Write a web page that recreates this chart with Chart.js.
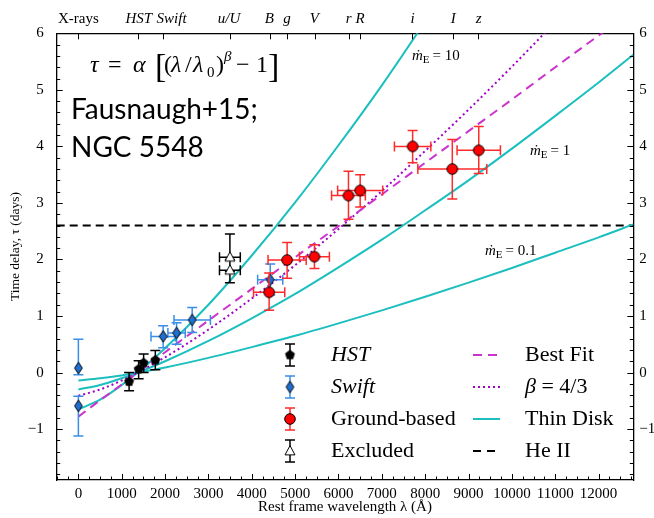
<!DOCTYPE html>
<html>
<head>
<meta charset="utf-8">
<script src="https://cdn.jsdelivr.net/npm/chart.js@4.4.1/dist/chart.umd.min.js"></script>
<style>
  html, body { margin: 0; padding: 0; background: #fff; }
  canvas { display: block; }
</style>
</head>
<body>
<canvas id="lagChart" width="654" height="518"></canvas>
<script>
const SERIF = "'Liberation Serif', 'DejaVu Serif', serif";

// top axis: bands and where they sit
const bandNames = ["X-rays", "HST", "Swift", "u/U", "B", "g", "V", "r", "R", "i", "I", "z"];
const bandWave = [0, 1380, 1955, 3495, 4415, 4815, 5455, 6235, 6490, 7705, 8640, 9225];
const bandLabelWave = [0, 1395, 2150, 3475, 4405, 4810, 5440, 6235, 6500, 7710, 8645, 9235];

const xTickLabels = [0, 1000, 2000, 3000, 4000, 5000, 6000, 7000, 8000, 9000, 10000, 11000, 12000];
const yTickLabels = [-1, 0, 1, 2, 3, 4, 5, 6];

// HST
const hstWave = [1170, 1390, 1505, 1775];
const hstLag = [-0.16, 0.06, 0.17, 0.22];
const hstErrUp = [0.16, 0.15, 0.16, 0.17];
const hstErrDn = [0.16, 0.17, 0.17, 0.17];
const hstWaveErr = [0, 0, 0, 0];

// Swift
const swiftWave = [0, 0, 1955, 2265, 2625, 4425];
const swiftLag = [0.08, -0.59, 0.64, 0.70, 0.93, 1.64];
const swiftErrUp = [0.51, 0.17, 0.19, 0.18, 0.22, 0.28];
const swiftErrDn = [0.12, 0.53, 0.20, 0.20, 0.22, 0.27];
const swiftWaveErr = [0, 0, 280, 200, 420, 290];

// ground-based
const groundWave = [4400, 4815, 5445, 6230, 6500, 7710, 8625, 9235];
const groundLag = [1.42, 1.99, 2.05, 3.13, 3.22, 4.00, 3.60, 3.93];
const groundErrUp = [0.34, 0.31, 0.21, 0.43, 0.28, 0.28, 0.52, 0.42];
const groundErrDn = [0.32, 0.32, 0.21, 0.42, 0.29, 0.29, 0.53, 0.41];
const groundWaveErr = [360, 440, 345, 390, 520, 420, 795, 500];

// excluded u/U
const exclWave = [3495, 3495];
const exclLag = [2.04, 1.81];
const exclErrUp = [0.41, 0.19];
const exclErrDn = [0.25, 0.22];
const exclWaveErr = [240, 240];

// model curves
const modelWave = [0, 500, 1000, 1367, 2000, 3000, 4000, 5000, 6000, 7000, 8000, 9000, 10000, 11000, 12000, 12800];
const bestFit = [-0.78, -0.49, -0.21, 0, 0.36, 0.92, 1.48, 2.04, 2.59, 3.15, 3.71, 4.27, 4.83, 5.40, 5.96, 6.40];
const beta43 = [-0.41, -0.30, -0.14, 0, 0.27, 0.76, 1.31, 1.90, 2.54, 3.21, 3.92, 4.65, 5.41, 6.20, 7.00, 7.68];
const disk10 = [-0.65, -0.48, -0.22, 0, 0.43, 1.20, 2.07, 3.01, 4.02, 5.08, 6.21, 7.37];
const disk1 = [-0.30, -0.22, -0.10, 0, 0.20, 0.56, 0.96, 1.39, 1.86, 2.35, 2.87, 3.40, 3.96, 4.54, 5.13, 5.62];
const disk01 = [-0.14, -0.10, -0.05, 0, 0.09, 0.26, 0.45, 0.65, 0.87, 1.10, 1.34, 1.59, 1.85, 2.12, 2.39, 2.62];
const heWave = [-500, 12800];
const heLag = [2.6, 2.6];

const legendLeft = ["HST", "Swift", "Ground-based", "Excluded"];
const legendRight = ["Best Fit", "\u03b2 = 4/3", "Thin Disk", "He II"];
const mdotValues = ["10", "1", "0.1"];

const CYAN = "#1bbfbf";
const MAGENTA = "#cc33cc";
const PURPLE = "#a000c8";

function pts(xs, ys) {
    return ys.map((y, i) => ({ x: xs[i], y: y }));
}

function marker(size, draw) {
    const c = document.createElement("canvas");
    c.width = c.height = size;
    const g = c.getContext("2d");
    g.translate(size / 2, size / 2);
    draw(g);
    return c;
}

const pentagon = marker(13, g => {
    g.beginPath();
    for (let k = 0; k < 5; k++) {
        const a = -Math.PI / 2 + k * 2 * Math.PI / 5;
        g.lineTo(5.2 * Math.cos(a), 5.2 * Math.sin(a));
    }
    g.closePath();
    g.fillStyle = "#000";
    g.fill();
});
const diamond = marker(15, g => {
    g.beginPath();
    g.moveTo(0, -5.8); g.lineTo(3.9, 0); g.lineTo(0, 5.8); g.lineTo(-3.9, 0);
    g.closePath();
    g.fillStyle = "#1f6fd0";
    g.fill();
    g.lineWidth = 1;
    g.strokeStyle = "#000";
    g.stroke();
});
const redDot = marker(14, g => {
    g.beginPath();
    g.arc(0, 0, 5.3, 0, 2 * Math.PI);
    g.fillStyle = "#ff0000";
    g.fill();
    g.lineWidth = 1;
    g.strokeStyle = "#000";
    g.stroke();
});
const triangle = marker(14, g => {
    g.beginPath();
    g.moveTo(0, -5.4); g.lineTo(5, 3.9); g.lineTo(-5, 3.9);
    g.closePath();
    g.fillStyle = "#fff";
    g.fill();
    g.lineWidth = 1;
    g.strokeStyle = "#000";
    g.stroke();
});

function pointSet(label, xs, ys, style, color, up, dn, werr) {
    return {
        label, data: pts(xs, ys), pointStyle: style, pointRadius: 5,
        showLine: false, errColor: color, errUp: up, errDn: dn, errW: werr
    };
}

function lineSet(label, xs, ys, color, dash, width) {
    return {
        label, data: pts(xs, ys), showLine: true, pointRadius: 0,
        borderColor: color, borderDash: dash, borderWidth: width,
        cubicInterpolationMode: "monotone", fill: false
    };
}

const errorBars = {
    id: "errorBars",
    beforeDatasetDraw(chart, args) {
        const ds = chart.data.datasets[args.index];
        if (!ds.errUp) return;
        const ctx = chart.ctx, xs = chart.scales.x, ys = chart.scales.y;
        ctx.save();
        ctx.strokeStyle = ds.errColor;
        ctx.lineWidth = 1.5;
        ctx.beginPath();
        ds.data.forEach((p, i) => {
            const px = xs.getPixelForValue(p.x), py = ys.getPixelForValue(p.y);
            const top = ys.getPixelForValue(p.y + ds.errUp[i]);
            const bot = ys.getPixelForValue(p.y - ds.errDn[i]);
            ctx.moveTo(px, top); ctx.lineTo(px, bot);
            ctx.moveTo(px - 5, top); ctx.lineTo(px + 5, top);
            ctx.moveTo(px - 5, bot); ctx.lineTo(px + 5, bot);
            if (ds.errW[i]) {
                const l = xs.getPixelForValue(p.x - ds.errW[i]);
                const r = xs.getPixelForValue(p.x + ds.errW[i]);
                ctx.moveTo(l, py); ctx.lineTo(r, py);
                ctx.moveTo(l, py - 5); ctx.lineTo(l, py + 5);
                ctx.moveTo(r, py - 5); ctx.lineTo(r, py + 5);
            }
        });
        ctx.stroke();
        ctx.restore();
    }
};

// inward tick marks, matplotlib style
const inTicks = {
    id: "inTicks",
    afterDraw(chart) {
        const { ctx, chartArea: a, scales } = chart;
        const xs = scales.x, ys = scales.y;
        ctx.save();
        ctx.strokeStyle = "#000";
        ctx.lineWidth = 1;
        ctx.beginPath();
        for (let v = -500; v <= 12800; v += 250) {
            const px = Math.round(xs.getPixelForValue(v)) + 0.5;
            const len = v % 1000 === 0 ? 6 : 3.5;
            ctx.moveTo(px, a.bottom); ctx.lineTo(px, a.bottom - len);
        }
        for (let k = -9; k <= 30; k++) {
            const py = Math.round(ys.getPixelForValue(k / 5)) + 0.5;
            const len = k % 5 === 0 ? 6 : 3.5;
            ctx.moveTo(a.left, py); ctx.lineTo(a.left + len, py);
            ctx.moveTo(a.right, py); ctx.lineTo(a.right - len, py);
        }
        bandWave.forEach(v => {
            const px = Math.round(xs.getPixelForValue(v)) + 0.5;
            ctx.moveTo(px, a.top); ctx.lineTo(px, a.top + 6);
        });
        ctx.stroke();
        ctx.restore();
    }
};

function drawMdot(ctx, x, y, val) {
    ctx.font = "italic 15px " + SERIF;
    ctx.fillText("\u1e41", x, y);
    x += ctx.measureText("\u1e41").width;
    ctx.font = "11px " + SERIF;
    ctx.fillText("E", x, y + 3);
    x += ctx.measureText("E").width + 3;
    ctx.font = "15px " + SERIF;
    ctx.fillText("= " + val, x, y);
}

const annotations = {
    id: "annotations",
    afterDraw(chart) {
        const ctx = chart.ctx;
        ctx.save();
        ctx.fillStyle = "#000";
        ctx.textBaseline = "alphabetic";

        // formula, glyph by glyph
        const base = 72;
        const it = "italic 24px " + SERIF, rm = "24px " + SERIF, big = "34px " + SERIF;
        const put = (txt, font, x, dy) => { ctx.font = font; ctx.fillText(txt, x, base + (dy || 0)); };
        put("\u03c4", it, 90);
        put("=", rm, 108);
        put("\u03b1", it, 133);
        put("[", big, 155, 5);
        put("(", rm, 164);
        put("\u03bb", it, 171);
        put("/", rm, 185);
        put("\u03bb", it, 193);
        put("0", "15px " + SERIF, 207, 5);
        put(")", rm, 216);
        put("\u03b2", "italic 15px " + SERIF, 224, -11);
        put("\u2212", rm, 236);
        put("1", rm, 256);
        put("]", big, 268, 5);

        ctx.font = "28px Lato";
        ctx.fillText("Fausnaugh+15;", 71, 119);
        ctx.fillText("NGC 5548", 71, 157);

        drawMdot(ctx, 412, 60, mdotValues[0]);
        drawMdot(ctx, 530, 155, mdotValues[1]);
        drawMdot(ctx, 485, 255, mdotValues[2]);

        // legend
        const rows = [355, 387, 419, 451];
        const marks = [pentagon, diamond, redDot, triangle];
        const errCols = ["#000", "#3a8ee6", "#ff2a2a", "#000"];
        ctx.textBaseline = "middle";
        legendLeft.forEach((t, i) => {
            const y = rows[i];
            ctx.strokeStyle = errCols[i];
            ctx.lineWidth = 1.5;
            ctx.beginPath();
            ctx.moveTo(290, y - 11); ctx.lineTo(290, y + 11);
            ctx.moveTo(285, y - 11); ctx.lineTo(295, y - 11);
            ctx.moveTo(285, y + 11); ctx.lineTo(295, y + 11);
            ctx.stroke();
            ctx.drawImage(marks[i], 290 - marks[i].width / 2, y - marks[i].height / 2);
            ctx.font = (i < 2 ? "italic " : "") + "22px " + SERIF;
            ctx.fillText(t, 331, y);
        });
        const lineCols = [MAGENTA, PURPLE, CYAN, "#000"];
        const lineDash = [[9, 6], [2, 3], [], [8, 6]];
        legendRight.forEach((t, i) => {
            const y = rows[i];
            ctx.strokeStyle = lineCols[i];
            ctx.lineWidth = 2;
            ctx.setLineDash(lineDash[i]);
            ctx.beginPath();
            ctx.moveTo(473, y); ctx.lineTo(500, y);
            ctx.stroke();
            ctx.setLineDash([]);
            ctx.font = "22px " + SERIF;
            if (i === 1) {
                let lx = 525;
                ctx.font = "italic 22px " + SERIF;
                ctx.fillText("\u03b2", lx, y);
                lx += ctx.measureText("\u03b2").width;
                ctx.font = "22px " + SERIF;
                ctx.fillText(t.slice(1), lx, y);
            } else {
                ctx.fillText(t, 525, y);
            }
        });
        ctx.restore();
    }
};

Chart.defaults.font.family = SERIF;
Chart.defaults.color = "#000";

const tickFont = { family: SERIF, size: 15 };
const frame = { display: true, color: "#000", width: 1.3 };

new Chart(document.getElementById("lagChart"), {
    type: "scatter",
    data: {
        datasets: [
            pointSet("Ground-based", groundWave, groundLag, redDot, "#ff2a2a", groundErrUp, groundErrDn, groundWaveErr),
            pointSet("Swift", swiftWave, swiftLag, diamond, "#3a8ee6", swiftErrUp, swiftErrDn, swiftWaveErr),
            pointSet("HST", hstWave, hstLag, pentagon, "#000", hstErrUp, hstErrDn, hstWaveErr),
            pointSet("Excluded", exclWave, exclLag, triangle, "#000", exclErrUp, exclErrDn, exclWaveErr),
            lineSet("Best Fit", modelWave, bestFit, MAGENTA, [9, 6], 2),
            lineSet("beta 4/3", modelWave, beta43, PURPLE, [2, 3], 2),
            lineSet("disk 10", modelWave, disk10, CYAN, [], 2),
            lineSet("disk 1", modelWave, disk1, CYAN, [], 2),
            lineSet("disk 0.1", modelWave, disk01, CYAN, [], 2),
            lineSet("He II", heWave, heLag, "#000", [8, 5], 2)
        ]
    },
    options: {
        responsive: false,
        animation: false,
        events: [],
        layout: { padding: 0 },
        plugins: { legend: { display: false }, tooltip: { enabled: false } },
        scales: {
            x: {
                type: "linear", position: "bottom", min: -500, max: 12800,
                grid: { display: false, drawTicks: false }, border: frame,
                afterBuildTicks: s => { s.ticks = xTickLabels.map(v => ({ value: v })); },
                afterFit: s => { s.height = 38; },
                ticks: { font: tickFont, padding: 5, autoSkip: false, maxRotation: 0, callback: v => String(v) },
                title: { display: true, text: "Rest frame wavelength \u03bb (\u00c5)", font: { family: SERIF, size: 15 }, padding: { top: 0, bottom: 2 } }
            },
            x2: {
                type: "linear", position: "top", min: -500, max: 12800,
                grid: { display: false, drawTicks: false }, border: frame,
                afterBuildTicks: s => { s.ticks = bandLabelWave.map(v => ({ value: v })); },
                afterFit: s => { s.height = 33.3; },
                ticks: {
                    autoSkip: false, maxRotation: 0, padding: 5,
                    font: c => ({ family: SERIF, size: 15, style: c.index === 0 ? "normal" : "italic" }),
                    callback: (v, i) => bandNames[i]
                }
            },
            y: {
                type: "linear", position: "left", min: -1.9, max: 6,
                grid: { display: false, drawTicks: false }, border: frame,
                afterBuildTicks: s => { s.ticks = yTickLabels.map(v => ({ value: v })); },
                afterFit: s => { s.width = 56.7; },
                ticks: { font: tickFont, padding: 13, callback: v => (v < 0 ? "\u2212" + Math.abs(v) : String(v)) },
                title: { display: true, text: "      Time delay, \u03c4 (days)", font: { family: SERIF, size: 13.5 }, padding: { top: 7, bottom: 0 } }
            },
            y2: {
                type: "linear", position: "right", min: -1.9, max: 6,
                grid: { display: false, drawTicks: false }, border: frame,
                afterBuildTicks: s => { s.ticks = yTickLabels.map(v => ({ value: v })); },
                afterFit: s => { s.width = 20.7; },
                ticks: { font: tickFont, padding: 6, callback: v => (v < 0 ? "\u2212" + Math.abs(v) : String(v)) }
            }
        }
    },
    plugins: [errorBars, inTicks, annotations]
});
</script>
</body>
</html>
